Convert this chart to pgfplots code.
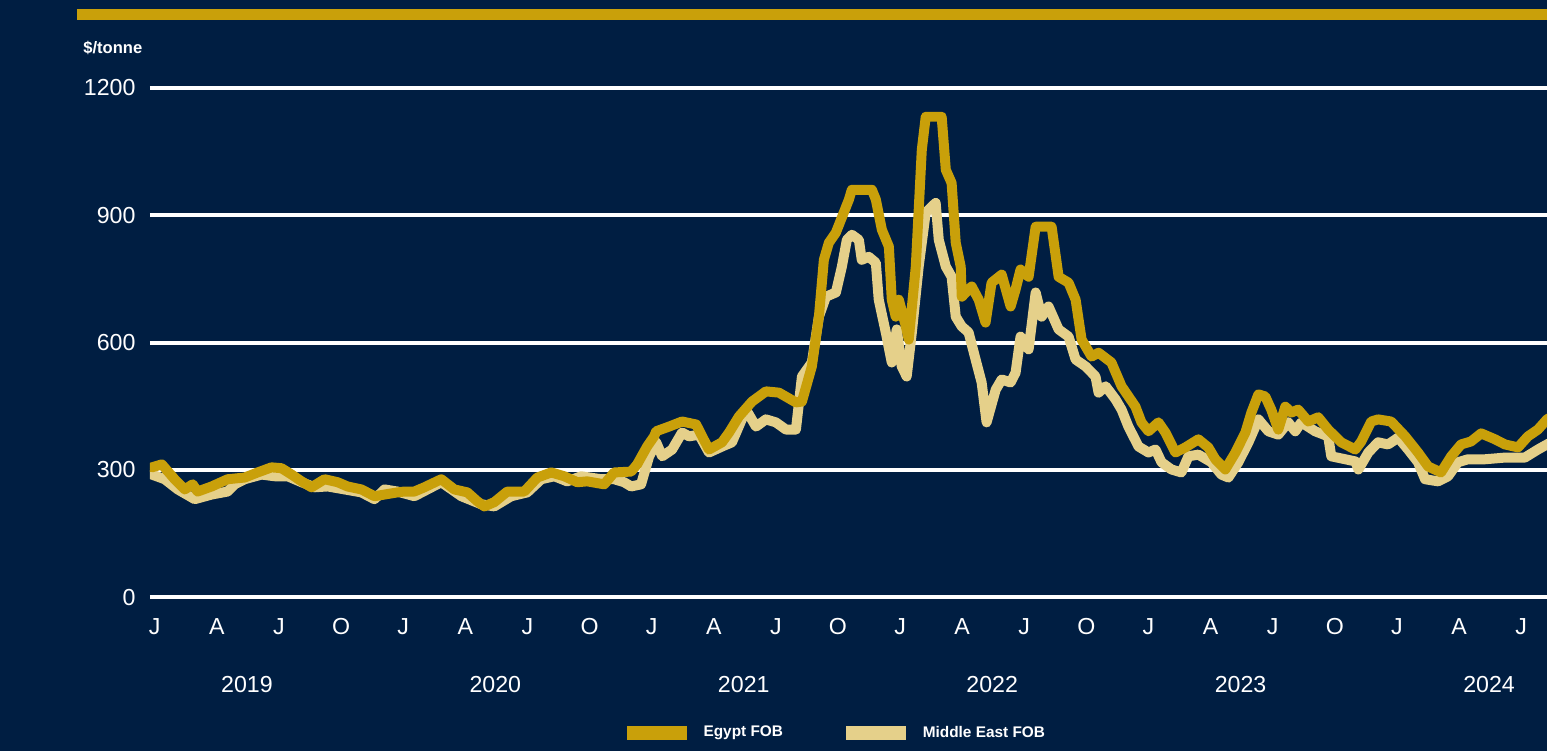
\documentclass[border=0pt]{standalone}
\usepackage{fontspec}
\setmainfont{Liberation Sans}
\usepackage{pgfplots}
\usepackage{pgfplotstable}
\pgfplotsset{compat=1.18}

\definecolor{navy}{HTML}{001E42}
\definecolor{egypt}{HTML}{C9A00A}
\definecolor{mideast}{HTML}{E5D08A}

% x = months since January 2019, y = $/tonne
\pgfplotstableread{
m v
-0.14 306
0.34 313
0.96 278
1.45 254
1.83 266
2.07 249
2.75 261
3.52 278
4.34 282
4.97 294
5.64 306
6.12 304
6.61 289
7.09 273
7.57 259
8.20 278
8.83 271
9.31 261
9.98 254
10.61 238
11.10 242
11.72 247
12.06 249
12.54 249
13.02 259
13.84 278
14.47 254
15.10 247
15.58 226
15.92 214
16.40 224
17.03 249
17.85 249
18.48 282
19.15 294
19.78 285
20.41 271
20.89 273
21.71 266
22.19 294
23.01 296
23.30 313
23.78 355
24.12 379
24.22 391
24.84 402
25.47 414
26.15 407
26.44 379
26.77 348
27.40 365
27.74 388
28.22 426
28.85 461
29.52 485
30.15 482
30.97 459
31.26 461
31.74 544
32.08 661
32.32 795
32.56 835
32.90 859
33.53 937
33.67 960
34.64 960
34.83 937
35.12 866
35.46 826
35.60 701
35.79 661
35.94 701
36.28 638
36.42 607
36.76 779
37.05 1054
37.24 1132
38.01 1132
38.21 1007
38.49 976
38.69 835
38.93 779
38.98 708
39.46 732
39.80 701
40.13 647
40.42 741
40.91 760
41.34 685
41.58 725
41.82 772
42.21 755
42.55 873
43.32 873
43.66 755
44.14 741
44.48 701
44.77 607
45.25 567
45.59 576
46.21 553
46.70 497
47.37 449
47.66 412
48.00 391
48.48 412
48.82 388
49.30 341
49.78 353
50.41 372
50.89 353
51.23 325
51.71 301
52.20 341
52.68 388
52.97 435
53.31 478
53.64 473
53.93 442
54.27 395
54.61 449
54.90 435
55.23 442
55.72 414
56.20 424
56.68 395
57.31 365
57.99 348
58.28 367
58.76 414
59.09 419
59.72 414
60.40 379
61.02 341
61.51 308
62.13 294
62.62 332
63.10 360
63.58 367
64.07 386
64.74 372
65.22 360
65.85 353
66.33 379
66.81 395
67.25 419
67.50 426
}\egypttable

\pgfplotstableread{
m v
-0.14 289
0.48 278
1.11 254
1.93 231
2.75 242
3.52 249
3.86 266
4.34 278
5.16 289
5.79 285
6.42 285
7.09 271
7.72 259
8.35 261
9.17 254
9.98 247
10.61 231
11.10 254
11.72 249
12.54 238
13.84 271
14.81 238
15.77 219
16.40 214
17.22 238
17.99 247
18.67 278
19.30 285
19.92 273
20.60 285
21.56 278
22.19 278
22.67 271
23.01 261
23.49 266
23.88 332
24.22 365
24.51 332
24.99 348
25.47 388
25.81 379
26.29 383
26.77 341
27.40 355
27.88 365
28.56 442
29.04 402
29.52 419
30.00 412
30.49 395
30.97 395
31.26 520
31.74 553
32.08 661
32.42 708
32.90 718
33.19 779
33.43 842
33.67 854
34.01 842
34.15 795
34.49 802
34.83 788
34.97 701
35.31 624
35.60 553
35.84 631
36.08 544
36.32 520
36.57 624
36.90 779
37.24 906
37.72 929
37.87 842
38.21 779
38.49 755
38.69 661
38.98 638
39.31 624
39.65 560
39.94 506
40.18 412
40.62 489
40.91 513
41.34 506
41.58 529
41.82 614
42.21 584
42.55 718
42.84 661
43.17 685
43.66 631
44.14 614
44.48 560
44.96 544
45.44 520
45.59 482
45.93 497
46.41 466
46.70 442
47.03 402
47.52 355
48.00 341
48.34 348
48.63 318
49.11 301
49.59 294
49.93 332
50.41 336
51.04 318
51.52 289
51.86 282
52.34 318
52.83 365
53.31 419
53.79 391
54.27 383
54.75 412
55.09 391
55.38 412
56.05 391
56.68 379
56.83 332
57.51 325
57.99 320
58.14 301
58.62 341
59.09 365
59.57 360
60.06 376
60.54 348
61.02 318
61.36 278
61.99 273
62.47 285
62.95 318
63.43 325
64.25 325
65.22 329
66.18 329
66.81 348
67.25 360
67.50 366
}\mideasttable

\begin{document}
\begin{tikzpicture}
\fill[navy] (0,0) rectangle (774.5pt,376pt);
\fill[egypt] (38.5pt,366pt) rectangle (774.5pt,371.5pt);
\node[anchor=west, inner sep=0pt, text=white, font=\bfseries\fontsize{8.3}{10}\selectfont] at (41.5pt,352pt) {\$/tonne};

\begin{axis}[
    at={(75pt,77pt)}, anchor=south west,
    scale only axis,
    width=699.5pt, height=255pt,
    xmin=-0.24, xmax=67.25,
    ymin=0, ymax=1200,
    clip mode=individual,
    axis line style={draw=none},
    major tick length=0pt,
    ytick={0,300,600,900,1200},
    ymajorgrids,
    grid style={white, line width=2pt},
    xtick={0,3,...,66},
    xticklabels={J,A,J,O,J,A,J,O,J,A,J,O,J,A,J,O,J,A,J,O,J,A,J},
    /pgf/number format/assume math mode=true,
    /pgf/number format/1000 sep={},
    tick label style={text=white, font=\fontsize{11.6}{14}\selectfont},
    yticklabel style={anchor=east, inner sep=0pt, xshift=-7pt},
    xticklabel style={anchor=north, inner sep=0pt, yshift=-10.5pt},
    reverse legend,
    legend columns=2,
    legend style={draw=none, fill=none, inner sep=0pt,
        at={(0.341,-0.2667)}, anchor=west,
        font=\bfseries\fontsize{7.7}{9}\selectfont, text=white,
        nodes={inner sep=0pt},
        /tikz/every odd column/.append style={column sep=8.5pt},
        /tikz/every even column/.append style={column sep=31.5pt}},
    legend image code/.code={\fill[#1, draw=none] (0pt,-3.5pt) rectangle (30pt,3.5pt);},
]
\addplot[color=mideast, line width=5pt, line join=round, line cap=round] table[x=m,y=v] {\mideasttable};
\addlegendentry{Middle East FOB}
\addplot[color=egypt, line width=5pt, line join=round, line cap=round] table[x=m,y=v] {\egypttable};
\addlegendentry{Egypt FOB}
\foreach \yr [count=\i from 0] in {2019,2020,2021,2022,2023,2024}{
  \edef\tmp{\noexpand\node[text=white, font=\noexpand\fontsize{11.6}{14}\noexpand\selectfont, yshift=-43.5pt] at (axis cs:{4.45+12*\i},0) {\yr};}
  \tmp
}
\end{axis}
\end{tikzpicture}
\end{document}
